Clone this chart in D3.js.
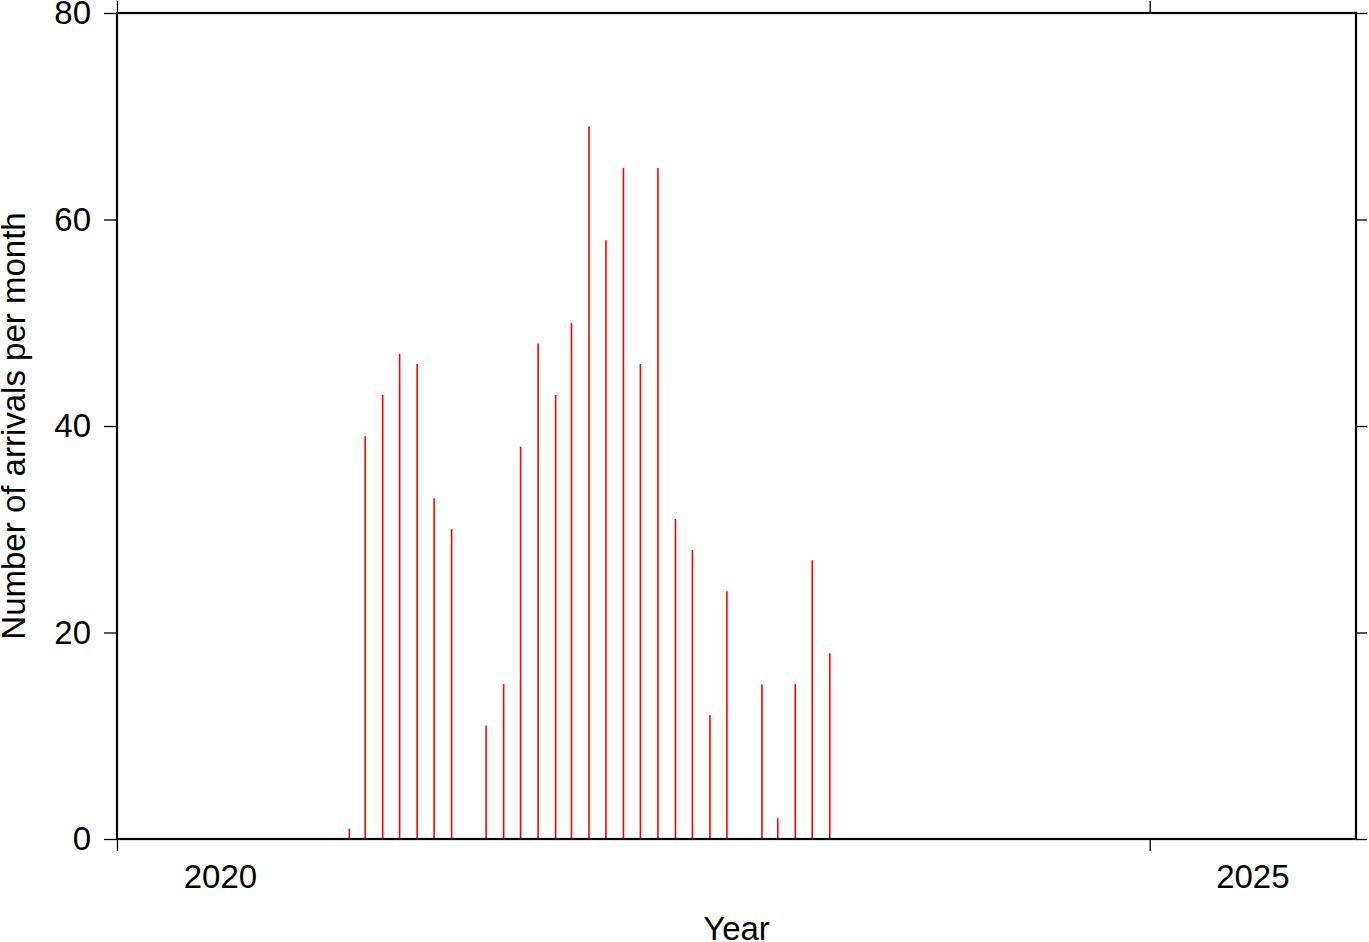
<!DOCTYPE html>
<html><head><meta charset="utf-8">
<script src="https://cdn.jsdelivr.net/npm/d3@7"></script>
<style>body{margin:0;background:#fff}svg{display:block}text{font-family:"Liberation Sans",Arial,Helvetica,sans-serif;fill:#000}</style>
</head><body><svg id="c" width="1369" height="942"></svg>
<script>
const months = ["2021-02","2021-03","2021-04","2021-05","2021-06","2021-07","2021-08","2021-09","2021-10","2021-11","2021-12",
"2022-01","2022-02","2022-03","2022-04","2022-05","2022-06","2022-07","2022-08","2022-09","2022-10","2022-11","2022-12",
"2023-01","2023-02","2023-03","2023-04","2023-05","2023-06"];
const arrivals = [1,39,43,47,46,33,30,0,11,15,38,48,43,50,69,58,65,46,65,31,28,12,24,0,15,2,15,27,18];
const yTicks = [0,20,40,60,80];
const xTickYears = [2020,2025];
const xDomainYears = [2020,2026];

const svg = d3.select("#c");
const L=117,R=1356,T=13,B=839;
const FS="33px";
const x = d3.scaleTime().domain(xDomainYears.map(y=>new Date(y,0,1))).range([L,R]);
const y = d3.scaleLinear().domain([0,80]).range([B,T]);

// bars
svg.append("g").selectAll("line").data(months.map((m,i)=>({d:new Date(+m.slice(0,4),+m.slice(5)-1,15),v:arrivals[i]})).filter(d=>d.v>0))
 .join("line").attr("x1",d=>x(d.d)).attr("x2",d=>x(d.d)).attr("y1",y(0)).attr("y2",d=>y(d.v))
 .attr("stroke","#ff0000").attr("stroke-width",1.6);

// axes
const tickYDates = xTickYears.map(yr=>new Date(yr,0,1));
const axL = d3.axisLeft(y).tickValues(yTicks).tickSize(13).tickPadding(13);
const axR = d3.axisRight(y).tickValues(yTicks).tickSize(11).tickFormat("");
const axB = d3.axisBottom(x).tickValues(tickYDates).tickSize(12).tickFormat("");
const axT = d3.axisTop(x).tickValues(tickYDates).tickSize(12).tickFormat("");
function style(g){g.select(".domain").remove();g.selectAll(".tick line").attr("stroke","#000").attr("stroke-width",1.3);}
svg.append("g").attr("transform",`translate(${L},0)`).call(axL).call(style)
  .selectAll("text").style("font-size",FS).attr("fill","#000");
svg.append("g").attr("transform",`translate(${R},0)`).call(axR).call(style);
svg.append("g").attr("transform",`translate(0,${B})`).call(axB).call(style);
svg.append("g").attr("transform",`translate(0,${T})`).call(axT).call(style);

// year labels at mid-year
svg.append("g").selectAll("text").data(xTickYears).join("text")
 .attr("x",d=>(x(new Date(d,0,1))+x(new Date(d+1,0,1)))/2).attr("y",888)
 .attr("text-anchor","middle").style("font-size",FS).text(d=>d);

// frame
svg.append("rect").attr("x",L).attr("y",T).attr("width",R-L).attr("height",B-T)
 .attr("fill","none").attr("stroke","#000").attr("stroke-width",2.2);

// titles
svg.append("text").attr("x",(L+R)/2).attr("y",940).attr("text-anchor","middle").style("font-size",FS).text("Year");
svg.append("text").attr("transform",`translate(25,${(T+B)/2}) rotate(-90)`).attr("text-anchor","middle").style("font-size",FS).text("Number of arrivals per month");
</script></body></html>
